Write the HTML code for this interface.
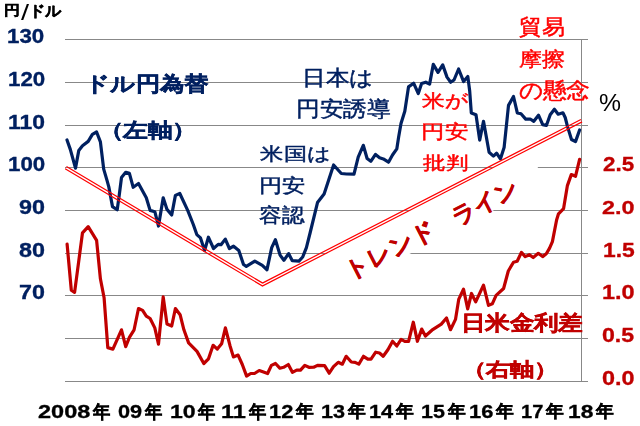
<!DOCTYPE html>
<html lang="ja"><head><meta charset="utf-8"><style>html,body{margin:0;padding:0;background:#fff;}
body{width:640px;height:426px;position:relative;overflow:hidden;font-family:"Liberation Sans",sans-serif;}
.t{position:absolute;white-space:nowrap;line-height:1;transform-origin:0 0;}
.nv{color:#002060;}.dr{color:#C00000;}.br{color:#FF0000;}.b{font-weight:bold;}
.k{-webkit-text-stroke:0.4px currentColor;}.d{-webkit-text-stroke:0.3px currentColor;}
.r{-webkit-text-stroke:0.45px currentColor;}</style></head><body>
<svg width="640" height="426" viewBox="0 0 640 426">
<defs><mask id="gap" maskUnits="userSpaceOnUse" x="0" y="0" width="640" height="426"><rect x="0" y="0" width="640" height="426" fill="#fff"/><polyline points="65.8,167.7 262.5,284.5 581.5,120.7" fill="none" stroke="#000" stroke-width="1.4"/></mask></defs>
<rect x="65" y="39" width="523" height="1" fill="#888"/><rect x="65" y="82" width="523" height="1" fill="#888"/><rect x="65" y="125" width="523" height="1" fill="#888"/><rect x="65" y="167" width="523" height="1" fill="#888"/><rect x="65" y="210" width="523" height="1" fill="#888"/><rect x="65" y="253" width="523" height="1" fill="#888"/><rect x="65" y="295" width="523" height="1" fill="#888"/><rect x="65" y="338" width="523" height="1" fill="#888"/><rect x="65" y="381" width="523" height="1" fill="#888"/>
<rect x="581" y="39" width="1" height="343" fill="#888"/>
<polygon points="320,257 528.4,149.2 546,183.2 337.7,291.2" fill="#fff"/>
<polyline points="67.1,244.1 71.3,290.1 74.6,292.4 82.5,232.8 88.2,226.6 96.6,240.4 100.4,278.8 104.1,297.8 107.8,347.6 112.9,349.1 121.5,329.8 125.7,346.7 129.4,337.3 134.1,329.8 138.5,308.5 142.6,310.4 146.3,316.1 150.1,318.5 154.8,327.9 158.5,344.2 163.2,296.9 167,324.1 171.7,326 175.4,308.5 180.1,314.7 183.9,329.8 188.6,342.9 197,351.4 203.8,363.5 208.5,358.8 213.1,345.3 217.3,349.1 221.6,343.8 225.4,327.8 230,345.7 233.4,356.9 238.1,355.1 242.3,364.5 246.6,376.1 250.7,373.5 254.5,373.5 259.2,370.5 263.5,372 267.6,373.5 271.4,365.4 275.5,363.5 279.8,368.2 283.6,367.3 288.3,364.5 292.4,372.3 296.7,370.1 300.5,370.1 304.8,365.4 308.9,367.3 313.7,367.2 317.5,365.4 324.6,365.7 329.2,373.2 333.5,366.7 338.2,362.3 342.3,364.2 346.2,356.3 351.3,362 355.1,362.3 358.8,364.2 363.5,356.3 367.8,359.2 371,359.2 375.7,352.2 379.5,353 383.2,356.3 387.9,349.8 392.6,341.3 396.8,346 401.1,339.4 404.8,341.3 408.6,341.3 413.3,322.2 417.4,341.3 421.7,329.1 425.4,336 431.9,330.2 441.3,324.1 446.5,318 450.5,329.7 455.5,319.4 458.8,299.1 463.5,289.2 467.7,308.9 471.5,293.5 475.7,301.9 483.5,285.1 488.5,305.4 492.3,303.8 496.1,295.4 503.6,288.5 508.3,271 513.5,262.2 517.2,261.3 521.4,252.4 525.2,256.6 529.4,254.7 533.2,257.5 538.3,253.3 542.6,256.6 546.3,253.8 549.6,248.1 552.4,241.6 556.6,220 558.5,213.8 563.6,208.6 567.4,185.6 571.3,174.6 575.5,176.3 579.6,159.4" fill="none" stroke="#C00000" stroke-width="3.2" stroke-linejoin="round" stroke-linecap="round"/>
<polyline points="67,140 70.3,149.4 75.5,168.1 78.8,150.4 82.5,145.7 88.2,141.4 92.4,134.4 96.6,132 100.4,141.9 103.7,169.1 107,180.4 108.8,186.9 112.5,206.6 117.2,209.8 119.1,196.3 121.5,177.5 125.7,172.3 129.4,173.4 133.2,187.3 138.5,183.5 146.3,197.8 150.1,210.4 154.8,211.7 158.5,226 163.2,197.8 167,209.4 171.7,215 175.4,195.4 179.8,193.5 187.7,210.4 193.3,224.5 196.8,234.6 200.5,237.9 204.6,250.6 208.4,237.2 213.5,248.5 218.2,244.4 221,244.7 225.3,239.1 229.4,248.5 233.6,246.2 238.8,250.4 243.5,264.5 246.3,266.3 254.8,261.1 262.3,265.4 267,269.7 271.7,247.6 275.4,239.7 280.1,255.1 283.9,260.3 288.6,253.6 292.3,260.7 298.9,261.1 302.7,257 306.4,247.6 310.2,232.5 317.5,202.6 324.1,194.1 333.6,165 341.3,173.5 346.4,174 354,174.2 358.2,157.1 363.3,145.3 367.1,158.5 370.8,161.3 375.5,154.4 379.6,157.7 383.3,158.9 388.5,162.2 392.5,155 396.8,148.9 398.6,137.2 401,123.5 404.8,111.3 408.5,86.9 413.6,83.2 418.3,93.5 421.6,83.6 425.8,82.2 429.6,84.1 433.3,64.4 438,72.4 442.7,64.9 447,77.1 450.7,82.2 454,80 458.6,69 463.6,81.6 467.8,76.4 469.7,91 471.3,112.9 476,114.7 479.7,140.1 483.5,121.3 489.1,152.3 493.4,156.1 496.6,153.2 500.4,158.9 504.1,147.6 508.5,105.4 513.5,96.5 517.3,112.9 521,113.8 525.7,119.1 530.2,119 533.8,121.3 538.5,115.2 542.7,124.6 546.4,125.5 550.2,114.7 554.4,109.3 558.2,114.2 562.9,112.8 565.2,117.5 567.6,126.9 571.5,139.5 575.5,141.6 579.6,130" fill="none" stroke="#002060" stroke-width="3.2" stroke-linejoin="round" stroke-linecap="round"/>
<polyline points="65.8,167.7 262.5,284.5 581.5,120.7" fill="none" stroke="#FF0000" stroke-width="3.8" mask="url(#gap)"/>
</svg>
<div class="t b k" style="left:4.4px;top:3.2px;font-size:14.00px;transform:scale(1.131,0.992)">円</div>
<div class="t " style="left:21.1px;top:0.8px;font-size:21.00px;transform:scale(1.382,1.029)">/</div>
<div class="t b k" style="left:29.2px;top:4.0px;font-size:16.00px;transform:scale(0.999,0.929)">ドル</div>
<div class="t b d nv" style="left:7.4px;top:25.7px;font-size:19.00px;transform:scale(1.174,1.092)">130</div>
<div class="t b d nv" style="left:7.5px;top:68.5px;font-size:19.00px;transform:scale(1.174,1.061)">120</div>
<div class="t b d nv" style="left:7.7px;top:111.7px;font-size:19.00px;transform:scale(1.206,1.061)">110</div>
<div class="t b d nv" style="left:7.5px;top:154.2px;font-size:19.00px;transform:scale(1.174,1.061)">100</div>
<div class="t b d nv" style="left:19.0px;top:196.8px;font-size:19.00px;transform:scale(1.229,1.061)">90</div>
<div class="t b d nv" style="left:19.0px;top:239.8px;font-size:19.00px;transform:scale(1.229,1.061)">80</div>
<div class="t b d nv" style="left:19.1px;top:282.4px;font-size:19.00px;transform:scale(1.227,1.061)">70</div>
<div class="t b d dr" style="left:602.7px;top:154.4px;font-size:19.00px;transform:scale(1.178,1.035)">2.5</div>
<div class="t b d dr" style="left:602.2px;top:197.9px;font-size:19.00px;transform:scale(1.231,0.988)">2.0</div>
<div class="t b d dr" style="left:602.5px;top:239.8px;font-size:19.00px;transform:scale(1.203,1.083)">1.5</div>
<div class="t b d dr" style="left:602.3px;top:282.3px;font-size:19.00px;transform:scale(1.237,1.061)">1.0</div>
<div class="t b d dr" style="left:602.2px;top:325.4px;font-size:19.00px;transform:scale(1.218,1.061)">0.5</div>
<div class="t b d dr" style="left:602.2px;top:367.9px;font-size:19.00px;transform:scale(1.230,1.093)">0.0</div>
<div class="t " style="left:598.9px;top:91.0px;font-size:24.00px;transform:scale(1.031,1.007)">%</div>
<div class="t b k nv" style="left:84.5px;top:72.9px;font-size:21.00px;transform:scale(1.148,0.988)">ドル円為替</div>
<div class="t b k nv" style="left:99.0px;top:120.1px;font-size:20.00px;transform:scale(1.221,0.987)">（左軸）</div>
<div class="t r nv" style="left:301.9px;top:67.4px;font-size:20.00px;transform:scale(1.175,1.048)">日本は</div>
<div class="t r nv" style="left:296.3px;top:98.4px;font-size:21.00px;transform:scale(1.124,0.990)">円安誘導</div>
<div class="t r nv" style="left:259.6px;top:144.7px;font-size:19.00px;transform:scale(1.245,0.966)">米国は</div>
<div class="t r nv" style="left:258.6px;top:176.0px;font-size:18.00px;transform:scale(1.269,1.037)">円安</div>
<div class="t r nv" style="left:258.6px;top:204.8px;font-size:20.00px;transform:scale(1.128,1.001)">容認</div>
<div class="t r br" style="left:421.8px;top:92.2px;font-size:18.00px;transform:scale(1.279,1.016)">米が</div>
<div class="t r br" style="left:421.4px;top:122.1px;font-size:19.00px;transform:scale(1.239,1.001)">円安</div>
<div class="t r br" style="left:422.6px;top:154.4px;font-size:18.00px;transform:scale(1.284,1.023)">批判</div>
<div class="t r br" style="left:518.9px;top:17.0px;font-size:19.00px;transform:scale(1.191,1.086)">貿易</div>
<div class="t r br" style="left:519.1px;top:48.6px;font-size:21.00px;transform:scale(1.112,0.970)">摩擦</div>
<div class="t r br" style="left:519.0px;top:79.4px;font-size:20.00px;transform:scale(1.185,1.093)">の懸念</div>
<div class="t b k dr" style="left:460.5px;top:311.6px;font-size:20.00px;transform:scale(1.215,1.035)">日米金利差</div>
<div class="t b k dr" style="left:461.7px;top:360.4px;font-size:18.00px;transform:scale(1.337,1.042)">（右軸）</div>
<div class="t b d" style="left:38.3px;top:401.9px;font-size:18.00px;transform:scale(1.305,1.053)">2008</div>
<div class="t b k" style="left:93.2px;top:403.1px;font-size:17.00px;transform:scale(1.014,1.054)">年</div>
<div class="t b d" style="left:118.4px;top:402.3px;font-size:18.00px;transform:scale(1.206,1.053)">09</div>
<div class="t b k" style="left:145.2px;top:403.1px;font-size:17.00px;transform:scale(1.014,1.054)">年</div>
<div class="t b d" style="left:169.8px;top:401.7px;font-size:18.00px;transform:scale(1.281,1.063)">10</div>
<div class="t b k" style="left:198.2px;top:403.1px;font-size:17.00px;transform:scale(1.014,1.054)">年</div>
<div class="t b d" style="left:220.8px;top:401.7px;font-size:18.00px;transform:scale(1.312,1.063)">11</div>
<div class="t b k" style="left:248.7px;top:403.1px;font-size:17.00px;transform:scale(1.014,1.054)">年</div>
<div class="t b d" style="left:268.9px;top:401.7px;font-size:18.00px;transform:scale(1.216,1.063)">12</div>
<div class="t b k" style="left:295.6px;top:403.1px;font-size:17.00px;transform:scale(1.070,1.025)">年</div>
<div class="t b d" style="left:320.9px;top:402.4px;font-size:18.00px;transform:scale(1.202,1.053)">13</div>
<div class="t b k" style="left:347.6px;top:403.1px;font-size:17.00px;transform:scale(1.070,1.025)">年</div>
<div class="t b d" style="left:368.9px;top:401.7px;font-size:18.00px;transform:scale(1.210,1.063)">14</div>
<div class="t b k" style="left:395.6px;top:403.1px;font-size:17.00px;transform:scale(1.070,1.025)">年</div>
<div class="t b d" style="left:420.9px;top:401.7px;font-size:18.00px;transform:scale(1.191,1.063)">15</div>
<div class="t b k" style="left:447.6px;top:403.1px;font-size:17.00px;transform:scale(1.070,1.025)">年</div>
<div class="t b d" style="left:468.9px;top:401.7px;font-size:18.00px;transform:scale(1.216,1.063)">16</div>
<div class="t b k" style="left:495.6px;top:403.1px;font-size:17.00px;transform:scale(1.070,1.025)">年</div>
<div class="t b d" style="left:521.0px;top:401.7px;font-size:18.00px;transform:scale(1.114,1.063)">17</div>
<div class="t b k" style="left:545.6px;top:403.1px;font-size:17.00px;transform:scale(1.070,1.025)">年</div>
<div class="t b d" style="left:567.8px;top:401.7px;font-size:18.00px;transform:scale(1.263,1.063)">18</div>
<div class="t b k" style="left:595.9px;top:403.1px;font-size:17.00px;transform:scale(1.070,1.025)">年</div>
<div class="t b k dr" style="left:340.9px;top:263.2px;font-size:23.70px;transform:rotate(-27.2deg)">トレンド</div>
<div class="t b k dr" style="left:448.0px;top:209.2px;font-size:23.37px;transform:rotate(-27.2deg)">ライン</div>
</body></html>
